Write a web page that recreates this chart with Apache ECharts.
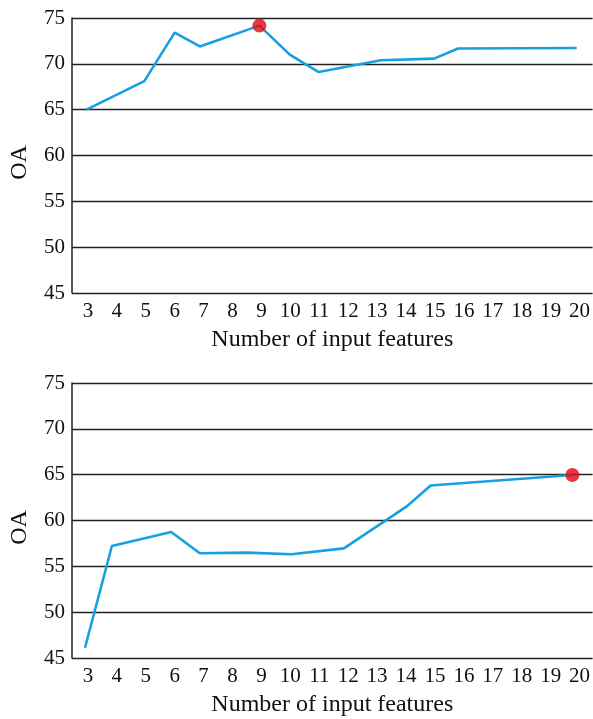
<!DOCTYPE html>
<html>
<head>
<meta charset="utf-8">
<script src="https://cdn.jsdelivr.net/npm/echarts@6/dist/echarts.min.js"></script>
<style>
  html, body { margin: 0; padding: 0; background: #fff; }
  #chart { width: 593px; height: 719px; }
</style>
</head>
<body>
<div id="chart"></div>
<script>
// Feature counts shown on the horizontal axes
const featureTicks = [3, 4, 5, 6, 7, 8, 9, 10, 11, 12, 13, 14, 15, 16, 17, 18, 19, 20];
// OA tick values on the vertical axes
const oaTicks = [45, 50, 55, 60, 65, 70, 75];

// Upper panel: line vertices (x position, OA)
const topX = [2.95, 4.95, 6.0, 6.87, 8.93, 9.98, 10.98, 13.13, 14.97, 15.8, 19.9];
const topOA = [65.0, 68.12, 73.4, 71.9, 74.17, 71.0, 69.1, 70.39, 70.57, 71.68, 71.72];
const topBest = 4; // index of the highlighted maximum

// Lower panel: line vertices (x position, OA)
const botX = [2.9, 3.83, 5.88, 6.87, 8.49, 10.04, 11.85, 14.05, 14.85, 19.75];
const botOA = [46.12, 57.22, 58.75, 56.42, 56.5, 56.32, 56.96, 61.6, 63.82, 64.97];
const botBest = 9;

const xName = 'Number of input features';
const yName = 'OA';

const FONT = '"Liberation Serif", "Times New Roman", serif';
const LINE_COLOR = '#17a0e0';
const BEST_COLOR = '#e20613';
const GRID_COLOR = '#222';

const pairs = (xs, ys) => xs.map((x, i) => [x, ys[i]]);

function xAxisFor(gridIndex) {
  return {
    type: 'value',
    gridIndex,
    min: 2.45,
    max: 20.45,
    axisLine: { show: false },
    axisTick: { show: false },
    splitLine: { show: false },
    axisLabel: {
      customValues: featureTicks,
      margin: 8,
      color: '#111',
      fontFamily: FONT,
      fontSize: 21
    },
    name: xName,
    nameLocation: 'middle',
    nameGap: 35,
    nameTextStyle: { color: '#111', fontFamily: FONT, fontSize: 24 }
  };
}

function yAxisFor(gridIndex) {
  return {
    type: 'value',
    gridIndex,
    min: oaTicks[0],
    max: oaTicks[oaTicks.length - 1],
    interval: 5,
    axisLine: { show: true, lineStyle: { color: GRID_COLOR, width: 1.5 } },
    axisTick: { show: false },
    splitLine: { show: true, lineStyle: { color: GRID_COLOR, width: 1.3 } },
    axisLabel: {
      margin: 7,
      color: '#111',
      fontFamily: FONT,
      fontSize: 21
    },
    name: yName,
    nameLocation: 'middle',
    nameGap: 40,
    nameRotate: 90,
    nameTextStyle: { color: '#111', fontFamily: FONT, fontSize: 24, padding: [0, 14, 0, 0] }
  };
}

function lineSeries(idx, xs, ys) {
  return {
    type: 'line',
    xAxisIndex: idx,
    yAxisIndex: idx,
    data: pairs(xs, ys),
    showSymbol: false,
    symbol: 'none',
    lineStyle: { color: LINE_COLOR, width: 2.6 },
    animation: false,
    z: 3
  };
}

function bestSeries(idx, xs, ys, best) {
  return {
    type: 'scatter',
    xAxisIndex: idx,
    yAxisIndex: idx,
    data: [[xs[best], ys[best]]],
    symbol: 'circle',
    symbolSize: 14,
    itemStyle: { color: BEST_COLOR },
    animation: false,
    z: 4
  };
}

const chart = echarts.init(document.getElementById('chart'), null, { renderer: 'canvas' });
chart.setOption({
  backgroundColor: '#fff',
  animation: false,
  grid: [
    { left: 69, right: 0, top: 18, height: 275 },
    { left: 69, right: 0, top: 383, height: 275 }
  ],
  xAxis: [xAxisFor(0), xAxisFor(1)],
  yAxis: [yAxisFor(0), yAxisFor(1)],
  series: [
    lineSeries(0, topX, topOA),
    bestSeries(0, topX, topOA, topBest),
    lineSeries(1, botX, botOA),
    bestSeries(1, botX, botOA, botBest)
  ]
});
</script>
</body>
</html>
